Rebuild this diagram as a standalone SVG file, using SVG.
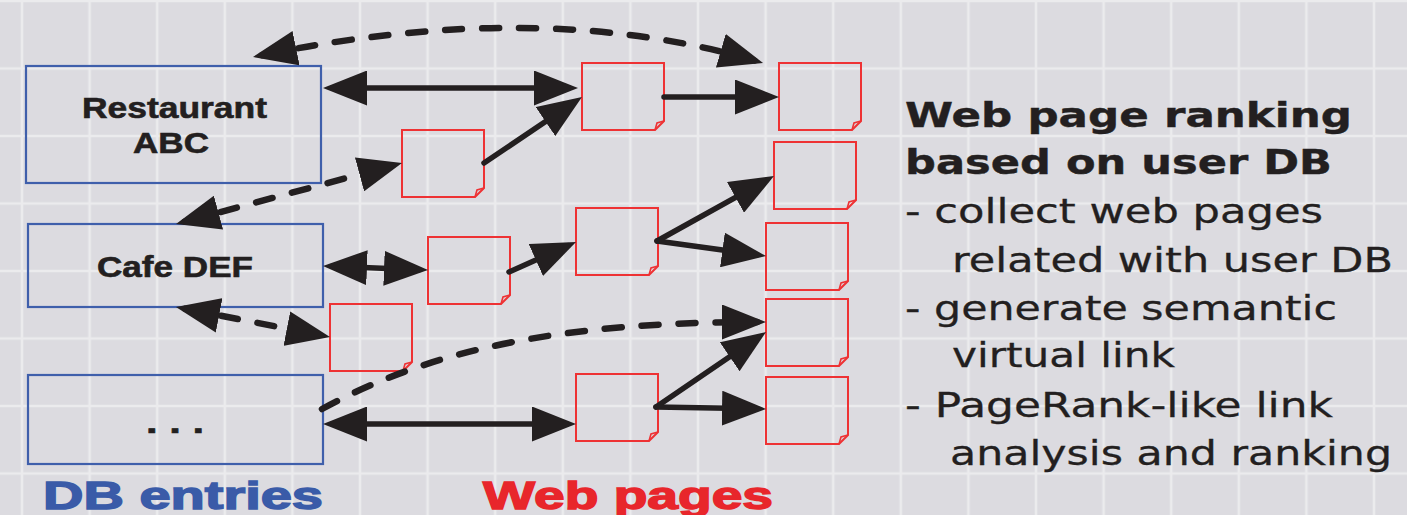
<svg xmlns="http://www.w3.org/2000/svg" xmlns:xlink="http://www.w3.org/1999/xlink" width="1407" height="515" viewBox="0 0 1407 515">
<defs>
<style>
.db{fill:none;stroke:#3f5fab;stroke-width:2.2}
.lbl{font-family:"Liberation Sans",Arial,sans-serif;font-weight:bold;font-size:29px;fill:#231f20;stroke:#231f20;stroke-width:0.6}
.big{font-family:"Liberation Sans",Arial,sans-serif;font-weight:bold;font-size:38px;stroke-width:1.4}
.hd{font-family:"DejaVu Sans",Verdana,sans-serif;font-weight:bold;font-size:33px;fill:#231f20;stroke:#231f20;stroke-width:0.4}
.tx{font-family:"DejaVu Sans",Verdana,sans-serif;font-size:34px;fill:#231f20;stroke:#231f20;stroke-width:0.3}
.solid{fill:none;stroke:#231f20;stroke-width:5.5;stroke-linecap:round}
.dash{fill:none;stroke:#231f20;stroke-width:6.5;stroke-dasharray:17 20;stroke-linecap:round}
</style>
<pattern id="grid" patternUnits="userSpaceOnUse" x="-11.8" y="-32.75" width="67.6" height="67.5">
<rect width="67.6" height="67.5" fill="#dcdbe0"/>
<path d="M33.8,0 V67.5 M0,33.75 H67.6" stroke="#ebebed" stroke-width="2.6"/>
</pattern>
<marker id="ah" markerUnits="userSpaceOnUse" markerWidth="44" markerHeight="35" viewBox="0 0 44 35" refX="35" refY="17.5" orient="auto-start-reverse">
<path d="M0,0 L44,17.5 L0,35 Z" fill="#231f20"/>
</marker>
<g id="page" fill="none" stroke="#ee3234" stroke-width="2">
<path d="M0,0 H82 V58 L73,67 H0 Z"/>
<path d="M73,67 L75,60 L82,58" stroke-width="1.6"/>
</g>
</defs>
<rect width="1407" height="515" fill="url(#grid)"/>

<g id="db-restaurant">
<rect class="db" x="26" y="66" width="295" height="117"/>
<text class="lbl" x="82" y="118" textLength="185" lengthAdjust="spacingAndGlyphs">Restaurant</text>
<text class="lbl" x="133" y="153" textLength="76" lengthAdjust="spacingAndGlyphs">ABC</text>
</g>
<g id="db-cafe">
<rect class="db" x="28" y="224" width="295" height="83"/>
<text class="lbl" x="97" y="277" textLength="156" lengthAdjust="spacingAndGlyphs">Cafe DEF</text>
</g>
<g id="db-more">
<rect class="db" x="28" y="375" width="295" height="89"/>
<text class="lbl" x="146" y="433" textLength="58" lengthAdjust="spacingAndGlyphs">. . .</text>
</g>

<g id="pages">
<use id="p1" xlink:href="#page" x="582" y="63"/>
<use id="p2" xlink:href="#page" x="779" y="63"/>
<use id="p3" xlink:href="#page" x="402" y="130"/>
<use id="p4" xlink:href="#page" x="774" y="142"/>
<use id="p5" xlink:href="#page" x="576" y="208"/>
<use id="p6" xlink:href="#page" x="428" y="237"/>
<use id="p7" xlink:href="#page" x="766" y="223"/>
<use id="p8" xlink:href="#page" x="330" y="304"/>
<use id="p9" xlink:href="#page" x="766" y="299"/>
<use id="p10" xlink:href="#page" x="576" y="374"/>
<use id="p11" xlink:href="#page" x="766" y="377"/>
</g>

<g id="connectors">
<path class="solid" d="M332,88 H569" marker-start="url(#ah)" marker-end="url(#ah)"/>
<path class="solid" d="M484,163 L574.5,102" marker-end="url(#ah)"/>
<path class="solid" d="M664,97 H770" marker-end="url(#ah)"/>
<path class="dash" d="M261.8,55.2 Q540,-2 754.4,60.5" marker-start="url(#ah)" marker-end="url(#ah)"/>
<path class="dash" d="M184.7,221.7 L393.3,165.3" marker-start="url(#ah)" marker-end="url(#ah)"/>
<path class="solid" d="M332,266.3 L419,269.7" marker-start="url(#ah)" marker-end="url(#ah)"/>
<path class="solid" d="M509,272 L567.8,245.7" marker-end="url(#ah)"/>
<path class="solid" d="M657,241 L766.1,180.4" marker-end="url(#ah)"/>
<path class="solid" d="M657,241 L757.1,254.8" marker-end="url(#ah)"/>
<path class="dash" d="M184.8,308.7 L321.2,335.3" marker-start="url(#ah)" marker-end="url(#ah)"/>
<path class="dash" d="M322,409 C430,350 560,322 757,322" marker-end="url(#ah)"/>
<path class="solid" d="M332,424 H567" marker-start="url(#ah)" marker-end="url(#ah)"/>
<path class="solid" d="M656,407 L758.6,337.1" marker-end="url(#ah)"/>
<path class="solid" d="M656,407 L757,408.8" marker-end="url(#ah)"/>
</g>

<g id="captions">
<text class="big" x="43" y="509" fill="#3a5ba8" stroke="#3a5ba8" textLength="280" lengthAdjust="spacingAndGlyphs">DB entries</text>
<text class="big" x="483" y="509" fill="#e8262b" stroke="#e8262b" textLength="290" lengthAdjust="spacingAndGlyphs">Web pages</text>
</g>

<g id="description">
<text class="hd" x="905" y="127" textLength="447" lengthAdjust="spacingAndGlyphs">Web page ranking</text>
<text class="hd" x="905" y="174" textLength="427" lengthAdjust="spacingAndGlyphs">based on user DB</text>
<text class="tx" x="905" y="223" textLength="418" lengthAdjust="spacingAndGlyphs">- collect web pages</text>
<text class="tx" x="952" y="272" textLength="441" lengthAdjust="spacingAndGlyphs">related with user DB</text>
<text class="tx" x="905" y="320" textLength="432" lengthAdjust="spacingAndGlyphs">- generate semantic</text>
<text class="tx" x="952" y="367" textLength="223" lengthAdjust="spacingAndGlyphs">virtual link</text>
<text class="tx" x="905" y="417" textLength="428" lengthAdjust="spacingAndGlyphs">- PageRank-like link</text>
<text class="tx" x="950" y="465" textLength="442" lengthAdjust="spacingAndGlyphs">analysis and ranking</text>
</g>
</svg>
